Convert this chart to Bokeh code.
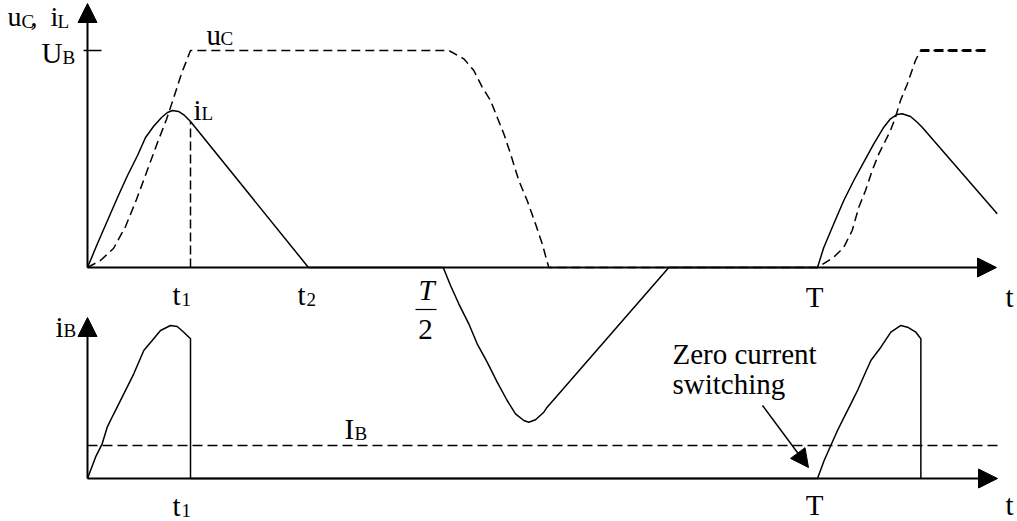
from bokeh.plotting import figure
from bokeh.models import Range1d, Arrow, NormalHead, Label
from bokeh.embed import file_html
from bokeh.resources import INLINE

W, H = 1017, 521

# Time is normalised to the switching period T; voltages/currents to U_B.
U_B = 1.0
I_B = 0.152
T = 1.0
t1 = 0.1411
t2 = 0.3027

# inductor current i_L (top panel)
t_iL = [0.0, 0.0137, 0.0274, 0.0411, 0.0548, 0.0685, 0.0795, 0.0904, 0.1014, 0.1096,
        0.1164, 0.1247, 0.1329, 0.1411, 0.3027, 0.4873, 0.4973, 0.5086, 0.5223, 0.5338,
        0.5475, 0.5612, 0.5749, 0.5863, 0.5977, 0.6045, 0.6137, 0.6251, 0.6297, 0.7963,
        1.0, 1.0086, 1.0223, 1.0360, 1.0497, 1.0634, 1.0771, 1.0908, 1.1000, 1.1092,
        1.1160, 1.1274, 1.1366, 1.1434, 1.2462]
iL = [0.0, 0.1106, 0.2166, 0.3226, 0.4240, 0.5161, 0.5991, 0.6498, 0.6912, 0.7143,
      0.7235, 0.7189, 0.7005, 0.6728, 0.0, 0.0, -0.0829, -0.1673, -0.2595, -0.3516,
      -0.4362, -0.5283, -0.6129, -0.6742, -0.7051, -0.7129, -0.7019, -0.6668, -0.6438, 0.0,
      0.0, 0.0922, 0.2014, 0.3088, 0.4009, 0.4853, 0.5700, 0.6465, 0.6851, 0.7051,
      0.7083, 0.6959, 0.6696, 0.6465, 0.2475]

# capacitor voltage u_C (top panel)
t_uC = [0.0, 0.0178, 0.0356, 0.0521, 0.0671, 0.0808, 0.0959, 0.1082, 0.1178, 0.1288,
        0.1411, 0.4949, 0.5155, 0.5292, 0.5407, 0.5521, 0.5612, 0.5703, 0.5795, 0.5908,
        0.6023, 0.6137, 0.6229, 0.6319, 1.0, 1.0223, 1.0360, 1.0475, 1.0566, 1.0658,
        1.0749, 1.0840, 1.0932, 1.1000, 1.1068, 1.1137, 1.1229, 1.1342, 1.1411, 1.2325]
uC = [0.0, 0.0323, 0.0876, 0.1889, 0.3134, 0.4378, 0.5760, 0.6820, 0.7788, 0.8940,
      1.0, 1.0, 0.9618, 0.9078, 0.8309, 0.7696, 0.6926, 0.6161, 0.5240, 0.4009,
      0.3088, 0.2014, 0.1092, 0.0, 0.0, 0.0475, 0.0935, 0.1705, 0.2779, 0.3548,
      0.4470, 0.5237, 0.5853, 0.6313, 0.6926, 0.7696, 0.8448, 0.9539, 1.0, 1.0]

# source current i_B (bottom panel)
t_iB = [0.0, 0.0110, 0.0201, 0.0270, 0.0360, 0.0497, 0.0634, 0.0771, 0.0886, 0.1000,
        0.1137, 0.1229, 0.1319, 0.1411, 0.1411, 1.0, 1.0091, 1.0182, 1.0274, 1.0365,
        1.0457, 1.0548, 1.0639, 1.0731, 1.0868, 1.1005, 1.1142, 1.1233, 1.1347, 1.1416,
        1.1416]
iB = [0.0, 0.0982, 0.1599, 0.2364, 0.2982, 0.3903, 0.4825, 0.5899, 0.6359, 0.6820,
      0.7051, 0.7005, 0.6742, 0.6438, 0.0, 0.0, 0.0829, 0.1521, 0.2212, 0.2826,
      0.3441, 0.4055, 0.4747, 0.5438, 0.6051, 0.6742, 0.7051, 0.6973, 0.6742, 0.6438,
      0.0]

# page layout: time origin and scale, baselines of both panels
X0, SX = 87, 730          # px of t=0, px per period
SY = 217                  # px per unit amplitude
TOP_BASE, BOT_BASE = 267, 478

FONT = "Liberation Serif"
BIG, SMALL = 29, 19
DY = 9                    # label box offset so that py is the text baseline


def tx(px):
    return (px - X0) / SX


def ty(py):
    return (TOP_BASE - py) / SY


def tb(py):
    return (BOT_BASE - py) / SY


p = figure(width=W, height=H, output_backend="svg", toolbar_location=None,
           x_axis_type=None, y_axis_type=None, min_border=0,
           x_range=Range1d(tx(0), tx(W)), y_range=Range1d(ty(H), ty(0)))
p.extra_y_ranges = {"ib": Range1d(tb(H), tb(0))}
p.grid.visible = False
p.outline_line_color = None
p.background_fill_color = "white"
p.border_fill_color = "white"


def axis_arrow(x1, y1, rng="default"):
    p.add_layout(Arrow(x_start=0, y_start=0, x_end=x1, y_end=y1,
                       line_color="black", line_width=2, y_range_name=rng,
                       end=NormalHead(size=19, fill_color="black",
                                      line_color="black", line_width=1)))


# axes with arrow heads
axis_arrow(0, ty(3))
axis_arrow(tx(996), 0)
axis_arrow(0, tb(317), "ib")
axis_arrow(tx(997), 0, "ib")

# U_B tick
p.line([tx(83), tx(101)], [U_B, U_B], line_color="black", line_width=1.5)

# top panel waveforms
p.line(t_uC, uC, line_color="black", line_width=1.5, line_dash="9 5")
p.line(t_uC[-2:], uC[-2:], line_color="black", line_width=3, line_dash="9 5")
p.line(t_iL, iL, line_color="black", line_width=1.5)
p.line([t1, t1], [0, iL[t_iL.index(t1)]], line_color="black", line_width=1.5,
       line_dash="9 4")

# bottom panel: mean source current and pulse current
p.line([0, tx(998)], [I_B, I_B], line_color="black", line_width=1.5,
       line_dash="10 5", y_range_name="ib")
p.line(t_iB, iB, line_color="black", line_width=1.5, y_range_name="ib")

# annotation arrow
p.add_layout(Arrow(x_start=tx(762), y_start=tb(405), x_end=tx(808), y_end=tb(467),
                   line_color="black", line_width=1.5, y_range_name="ib",
                   end=NormalHead(size=18, fill_color="black", line_color="black",
                                  line_width=1)))

# fraction bar of T/2
p.line([tx(415), tx(436)], [ty(309), ty(309)], line_color="black", line_width=1.2)


def lab(text, px, py, size=BIG, style="normal", align="left"):
    p.add_layout(Label(x=tx(px), y=ty(py - DY), text=text, text_font=FONT,
                       text_font_size=f"{size}px", text_font_style=style,
                       text_align=align, text_baseline="alphabetic",
                       text_color="black"))


# axis titles
lab("u", 7, 25, 28); lab("C", 21, 30, SMALL); lab(",", 30, 25, 28)
lab("i", 50, 25, 28); lab("L", 57, 30, SMALL)
lab("U", 41, 61); lab("B", 62, 66, SMALL)
lab("i", 55, 335); lab("B", 63, 339, SMALL)

# curve names
lab("u", 206, 43); lab("C", 220, 47, SMALL)
lab("i", 193, 118); lab("L", 201, 122, SMALL)
lab("I", 344, 437); lab("B", 354, 442, SMALL)

# time marks, top panel
lab("t", 172, 303); lab("1", 181, 308, SMALL)
lab("t", 297, 303); lab("2", 306, 308, SMALL)
lab("T", 426, 298, BIG, "italic", "center"); lab("2", 425, 338, BIG, "normal", "center")
lab("T", 814, 305, BIG, "normal", "center")
lab("t", 1005, 305)

# time marks, bottom panel
lab("t", 172, 514); lab("1", 181, 519, SMALL)
lab("T", 814, 513, BIG, "normal", "center")
lab("t", 1005, 513)

lab("Zero current", 672, 362)
lab("switching", 672, 392)

open("out.html", "w").write(file_html(p, INLINE))
